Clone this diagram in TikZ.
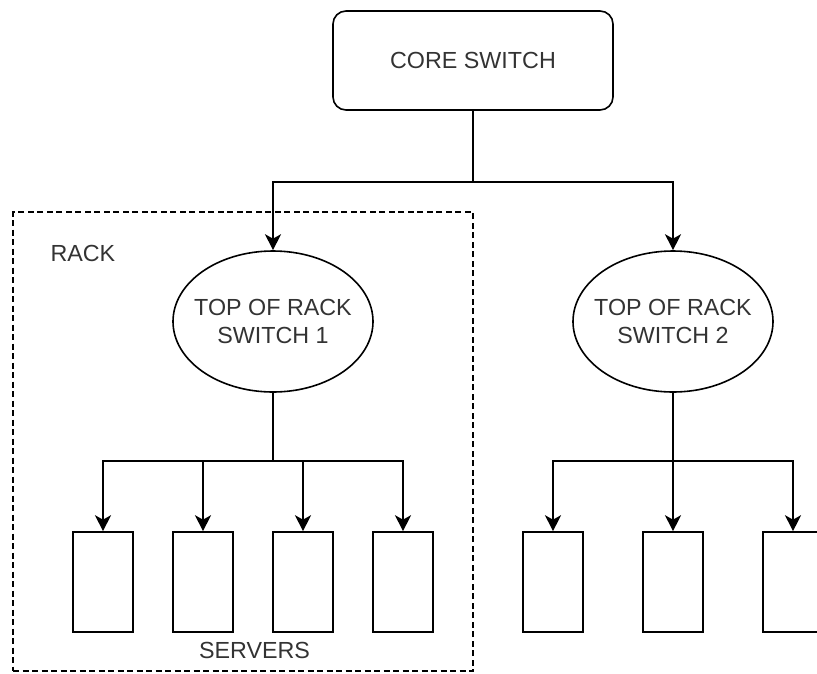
\documentclass[tikz,border=0pt]{standalone}
\usepackage{fontspec}
\setmainfont{Liberation Sans}
\usetikzlibrary{shapes.geometric,arrows.meta}

\begin{document}
\begin{tikzpicture}[x=1pt,y=-1pt,
  every node/.style={font=\fontsize{23.3}{28}\selectfont, text=black!80},
  line/.style={draw=black, line width=1.6pt},
  arr/.style={line, -{Stealth[length=16pt,width=16pt,inset=4.5pt]}},
  corebox/.style={line, rounded corners=13pt, minimum width=280pt, minimum height=99pt, inner sep=0pt, align=center},
  torswitch/.style={line, ellipse, minimum width=200pt, minimum height=141pt, inner xsep=-10pt, inner ysep=0pt, align=center, fill=white},
  server/.style={line, rectangle, minimum width=60pt, minimum height=100pt, inner sep=0pt, fill=white},
  rackbox/.style={draw=black, line width=1.4pt, dash pattern=on 6pt off 3.5pt, rectangle, inner sep=0pt}
]
\useasboundingbox (0,0) rectangle (817,673);

% dashed enclosure of the first rack
\node[rackbox, minimum width=460pt, minimum height=459pt] (rack) at (243,441.5) {};
\node[anchor=west] (racklabel) at (47,253) {RACK};
\node (serverslabel) at (254.5,650) {SERVERS};

% switches
\node[corebox] (core) at (473,60.5) {CORE SWITCH};
\node[torswitch] (tor1) at (273,321.5) {TOP OF RACK\\SWITCH 1};
\node[torswitch] (tor2) at (673,321.5) {TOP OF RACK\\SWITCH 2};

% servers in rack 1
\node[server] (s1) at (103,582) {};
\node[server] (s2) at (203,582) {};
\node[server] (s3) at (303,582) {};
\node[server] (s4) at (403,582) {};
% servers in rack 2
\node[server] (s5) at (553,582) {};
\node[server] (s6) at (673,582) {};
\node[server] (s7) at (793,582) {};

% branching points
\coordinate (jcore) at (473,182);
\coordinate (jtor1) at (273,461);
\coordinate (jtor2) at (673,461);

% core switch to top-of-rack switches
\draw[line] (core.south) -- (jcore);
\draw[arr] (jcore) -| (tor1.north);
\draw[arr] (jcore) -| (tor2.north);

% top-of-rack switch 1 to its servers
\draw[line] (tor1.south) -- (jtor1);
\foreach \s in {s1,s2,s3,s4} \draw[arr] (jtor1) -| (\s.north);

% top-of-rack switch 2 to its servers
\draw[line] (tor2.south) -- (jtor2);
\foreach \s in {s5,s7} \draw[arr] (jtor2) -| (\s.north);
\draw[arr] (jtor2) -- (s6.north);
\end{tikzpicture}
\end{document}
